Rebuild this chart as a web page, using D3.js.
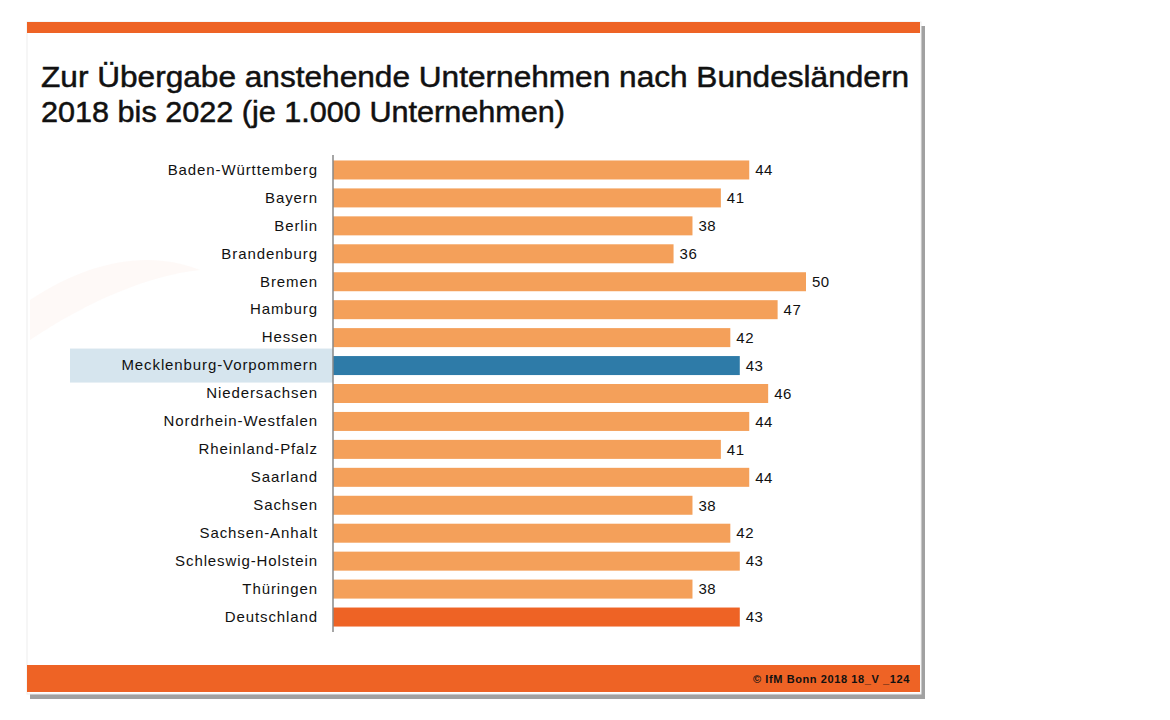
<!DOCTYPE html>
<html><head><meta charset="utf-8">
<script src="https://cdn.jsdelivr.net/npm/d3@7"></script>
<style>body{margin:0;background:#fff;} svg{display:block;}</style>
</head><body>
<script>
const categories = ["Baden-Württemberg","Bayern","Berlin","Brandenburg","Bremen","Hamburg","Hessen","Mecklenburg-Vorpommern","Niedersachsen","Nordrhein-Westfalen","Rheinland-Pfalz","Saarland","Sachsen","Sachsen-Anhalt","Schleswig-Holstein","Thüringen","Deutschland"];
const values = [44,41,38,36,50,47,42,43,46,44,41,44,38,42,43,38,43];
const highlight = "Mecklenburg-Vorpommern";
const total = "Deutschland";
const titleLines = ["Zur Übergabe anstehende Unternehmen nach Bundesländern","2018 bis 2022 (je 1.000 Unternehmen)"];
const footer = "© IfM Bonn 2018 18_V _124";

const W=1170,H=720;
const FONT="Liberation Sans, Arial, sans-serif";
const svg=d3.select("body").append("svg").attr("width",W).attr("height",H);

// slide shadow
svg.append("rect").attr("x",30).attr("y",26).attr("width",895).attr("height",673).attr("fill","#8a8a8a").attr("opacity",0.8);
svg.append("rect").attr("x",27).attr("y",22).attr("width",894).attr("height",672).attr("fill","#fff").attr("stroke","#eeeeee").attr("stroke-width",1);
// top and bottom bars
svg.append("rect").attr("x",27).attr("y",22).attr("width",893).attr("height",11).attr("fill","#EE6325");
svg.append("rect").attr("x",27).attr("y",665).attr("width",893).attr("height",27).attr("fill","#EE6325");

// faint swoosh
svg.append("path").attr("d","M30,300 C90,260 150,250 200,270 C150,275 90,300 30,340 Z").attr("fill","#fdf4f0").attr("opacity",0.5);

// title
const tw=[868,524];
svg.selectAll("text.title").data(titleLines).join("text").attr("class","title")
  .attr("x",41).attr("y",(d,i)=>87+i*35).text(d=>d)
  .attr("textLength",(d,i)=>tw[i]).attr("lengthAdjust","spacingAndGlyphs")
  .attr("font-family",FONT).attr("font-size",30)
  .attr("fill","#111").attr("stroke","#111").attr("stroke-width",0.5);

const x0=333;
const x=d3.scaleLinear().domain([0,50]).range([x0,806]);
const y=d3.scaleBand().domain(categories).range([156,631]).paddingInner(0.32).paddingOuter(0.16);

// highlight band
svg.append("rect").attr("x",70).attr("y",y(highlight)+y.bandwidth()/2-17).attr("width",x0-70).attr("height",34).attr("fill","#D6E5EE");

const color=d=>d===highlight?"#2E7BA8":(d===total?"#EE6325":"#F4A05A");
svg.selectAll("rect.bar").data(categories).join("rect").attr("class","bar")
  .attr("x",x(0)).attr("y",d=>y(d)).attr("width",(d,i)=>x(values[i])-x(0)).attr("height",y.bandwidth())
  .attr("fill",d=>color(d));

// axis
const axis=d3.axisLeft(y).tickSize(0).tickPadding(15);
const g=svg.append("g").attr("transform",`translate(${x0},0)`).call(axis);
g.select(".domain").attr("stroke","#888").attr("stroke-width",1.5).attr("d","M0,155V632");
g.selectAll("text").attr("font-family",FONT).attr("font-size",15).attr("letter-spacing","0.9px").attr("fill","#111");

// value labels
svg.selectAll("text.val").data(categories).join("text").attr("class","val")
  .attr("x",(d,i)=>x(values[i])+6).attr("y",d=>y(d)+y.bandwidth()/2).attr("dy","0.35em")
  .text((d,i)=>values[i]).attr("font-family",FONT).attr("font-size",15).attr("letter-spacing","0.5px").attr("fill","#111");

svg.append("text").attr("x",910).attr("y",683).attr("text-anchor","end").text(footer)
  .attr("font-family",FONT).attr("font-size",11).attr("letter-spacing","0.6px").attr("font-weight","bold").attr("fill","#111");
</script>
</body></html>
